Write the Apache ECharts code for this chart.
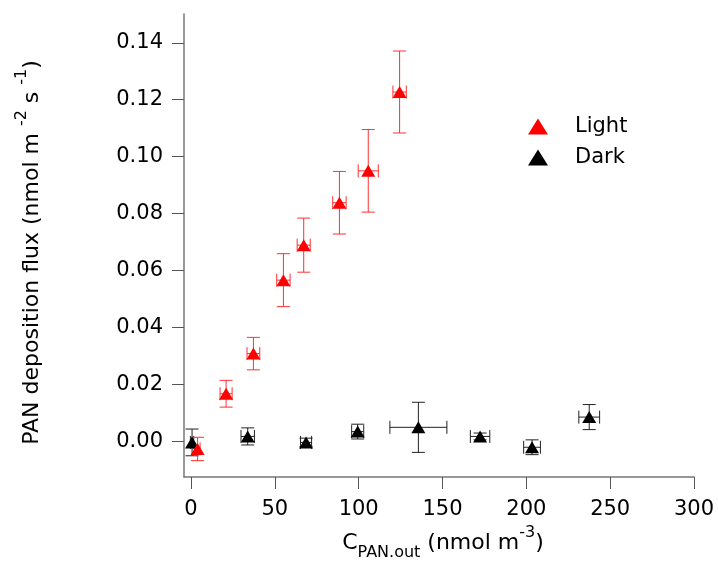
<!DOCTYPE html>
<html>
<head>
<meta charset="utf-8">
<script src="https://cdn.jsdelivr.net/npm/echarts@6/dist/echarts.min.js"></script>
<style>
html, body { margin: 0; padding: 0; background: #fff; }
#chart { width: 718px; height: 567px; }
</style>
</head>
<body>
<div id="chart"></div>
<script>
/* tick labels */
var xTicks = [0, 50, 100, 150, 200, 250, 300];
var yTicks = [0, 0.02, 0.04, 0.06, 0.08, 0.10, 0.12, 0.14];

/* Light */
var lightX = [3.9, 20.9, 37.2, 55.1, 67.2, 88.5, 105.7, 124.4];
var lightY = [-0.0027, 0.0167, 0.0308, 0.0566, 0.0689, 0.0838, 0.0950, 0.1227];
var lightXErr = [1.5, 3.6, 3.8, 4.0, 3.9, 4.0, 6.0, 4.0];
var lightYErr = [0.0041, 0.0047, 0.0057, 0.0093, 0.0095, 0.0110, 0.0145, 0.0144];

/* Dark */
var darkX = [0.6, 33.8, 68.6, 99.4, 135.6, 172.4, 203.4, 237.5];
var darkY = [-0.0004, 0.0017, -0.0004, 0.0034, 0.0049, 0.0017, -0.0021, 0.0085];
var darkXErr = [1.0, 4.0, 3.3, 3.6, 17.0, 5.8, 5.0, 6.2];
var darkYErr = [0.0047, 0.0030, 0.0015, 0.0026, 0.0088, 0.0012, 0.0026, 0.0044];

var FONT = 'DejaVu Sans';

function points(xs, ys) {
	var out = [];
	for(var i = 0; i < xs.length; i++) {
		out.push([xs[i], ys[i]]);
	}
	return out;
}

/*误差线*/
function errorBars(xs, ys, xe, ye, color) {
	var data = [];
	for(var i = 0; i < xs.length; i++) {
		data.push([xs[i], ys[i], xe[i], ye[i]]);
	}
	return {
		type: 'custom',
		silent: true,
		data: data,
		encode: { x: 0, y: 1 },
		renderItem: function(params, api) {
			var x = api.value(0), y = api.value(1);
			var dx = api.value(2), dy = api.value(3);
			var top = api.coord([x, y + dy]);
			var bot = api.coord([x, y - dy]);
			var lef = api.coord([x - dx, y]);
			var rig = api.coord([x + dx, y]);
			var cap = 6.5;
			var style = { stroke: color, lineWidth: 1, fill: null };
			var seg = function(x1, y1, x2, y2) {
				return { type: 'line', shape: { x1: x1, y1: y1, x2: x2, y2: y2 }, style: style };
			};
			return {
				type: 'group',
				children: [
					seg(top[0], top[1], bot[0], bot[1]),
					seg(top[0] - cap, top[1], top[0] + cap, top[1]),
					seg(bot[0] - cap, bot[1], bot[0] + cap, bot[1]),
					seg(lef[0], lef[1], rig[0], rig[1]),
					seg(lef[0], lef[1] - cap, lef[0], lef[1] + cap),
					seg(rig[0], rig[1] - cap, rig[0], rig[1] + cap)
				]
			};
		}
	};
}

var mainText = { fontSize: 22, fontFamily: FONT, color: '#000', lineHeight: 36 };
var supText = { fontSize: 16, fontFamily: FONT, color: '#000', lineHeight: 16, verticalAlign: 'top' };
var subText = { fontSize: 16, fontFamily: FONT, color: '#000', lineHeight: 16, verticalAlign: 'bottom' };

var option = {
	animation: false,
	backgroundColor: '#fff',
	grid: { left: 184, top: 14, right: 24, bottom: 90, containLabel: false },
	legend: {
		orient: 'vertical',
		left: 523,
		top: 111,
		itemWidth: 20,
		itemHeight: 16,
		itemGap: 10,
		data: [
			{ name: 'Light', icon: 'triangle' },
			{ name: 'Dark', icon: 'triangle' }
		],
		textStyle: { fontSize: 21, fontFamily: FONT, color: '#000', padding: [0, 0, 0, 22] }
	},
	xAxis: {
		type: 'value',
		min: -4.2,
		max: 300,
		splitLine: { show: false },
		axisLine: { show: true, onZero: false, lineStyle: { color: '#777', width: 1.5 } },
		axisTick: { show: true, length: 12, customValues: xTicks, lineStyle: { color: '#555', width: 1 } },
		axisLabel: { customValues: xTicks, margin: 22, fontSize: 21, fontFamily: FONT, color: '#000' },
		name: '{m|C}{sub|PAN.out}{m| (nmol m}{sup|-3}{m|)}',
		nameLocation: 'middle',
		nameGap: 44,
		nameTextStyle: { padding: [0, 0, 0, 8], rich: { m: mainText, sup: supText, sub: subText } }
	},
	yAxis: {
		type: 'value',
		min: -0.01255,
		max: 0.1501,
		splitLine: { show: false },
		axisLine: { show: true, onZero: false, lineStyle: { color: '#777', width: 1.5 } },
		axisTick: { show: true, length: 12, customValues: yTicks, lineStyle: { color: '#555', width: 1 } },
		axisLabel: {
			customValues: yTicks,
			margin: 21,
			fontSize: 21,
			fontFamily: FONT,
			color: '#000',
			formatter: function(v) { return v.toFixed(2); }
		},
		name: '{m|PAN deposition flux (nmol m }{sup|-2}{m| s }{sup|-1}{m|)}',
		nameLocation: 'middle',
		nameRotate: 90,
		nameGap: 134,
		nameTextStyle: { padding: [0, 14, 0, 0], rich: { m: mainText, sup: supText, sub: subText } }
	},
	series: [
		errorBars(darkX, darkY, darkXErr, darkYErr, '#222'),
		{
			name: 'Dark',
			type: 'scatter',
			symbol: 'triangle',
			symbolSize: [14, 12],
			itemStyle: { color: '#000', opacity: 1 },
			data: points(darkX, darkY)
		},
		errorBars(lightX, lightY, lightXErr, lightYErr, '#ff3030'),
		{
			name: 'Light',
			type: 'scatter',
			symbol: 'triangle',
			symbolSize: [14, 12],
			itemStyle: { color: '#ff0000', opacity: 1 },
			data: points(lightX, lightY)
		}
	]
};

echarts.init(document.getElementById('chart')).setOption(option);
</script>
</body>
</html>
